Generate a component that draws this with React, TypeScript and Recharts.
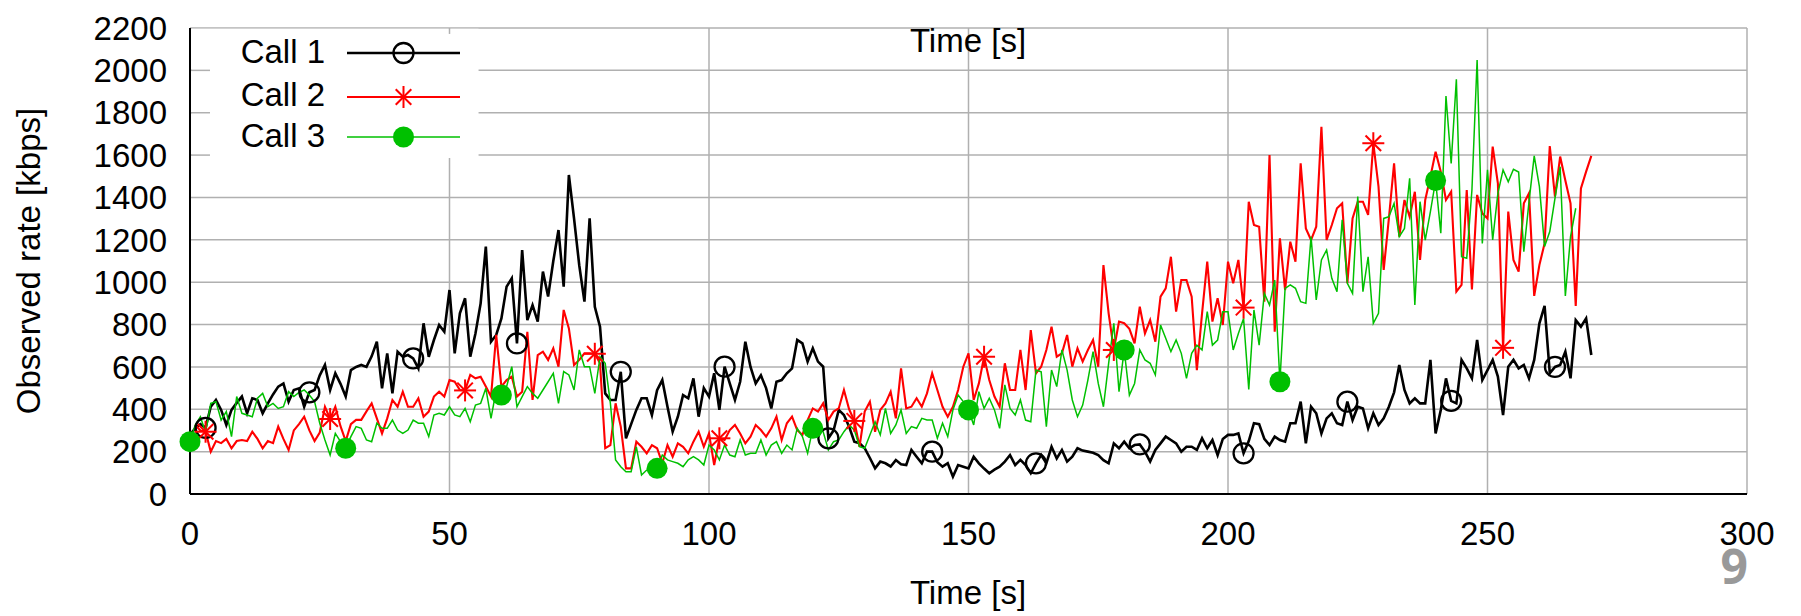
import React from "react";
import {
  LineChart,
  Line,
  XAxis,
  YAxis,
  CartesianGrid,
  ReferenceArea,
  ReferenceLine,
} from "recharts";

const FONT = "'Liberation Sans', Arial, Helvetica, sans-serif";

const timeTicks = [0, 50, 100, 150, 200, 250, 300];
const rateTicks = [0, 200, 400, 600, 800, 1000, 1200, 1400, 1600, 1800, 2000, 2200];

// observed rate [kbps], one sample per second, starting at t = 0
const call1Rate = [
  280, 310, 330, 312, 412, 444, 397, 326, 397, 430,
  460, 381, 452, 444, 381, 428, 470, 507, 522, 436,
  491, 499, 412, 480, 491, 560, 609, 491, 570, 520,
  460, 585, 600, 609, 600, 650, 719, 499, 664, 475,
  672, 648, 656, 640, 593, 806, 648, 727, 798, 766,
  963, 664, 853, 924, 648, 758, 900, 1168, 719, 751,
  829, 979, 1018, 711, 1152, 821, 892, 814, 1050, 932,
  1100, 1246, 979, 1506, 1300, 1080, 908, 1301, 884, 790,
  475, 444, 444, 577, 263, 330, 397, 452, 452, 373,
  490, 538, 412, 294, 365, 467, 452, 546, 365, 500,
  460, 570, 397, 601, 522, 444, 530, 719, 600, 522,
  560, 500, 404, 530, 538, 570, 593, 727, 711, 625,
  688, 625, 601, 263, 300, 397, 373, 318, 247, 240,
  216, 170, 121, 153, 145, 130, 160, 140, 137, 208,
  176, 145, 200, 200, 150, 129, 145, 82, 137, 129,
  121, 176, 145, 120, 98, 115, 129, 153, 184, 137,
  161, 137, 98, 145, 184, 145, 223, 168, 208, 153,
  176, 216, 205, 200, 195, 184, 160, 145, 239, 216,
  247, 216, 231, 234, 200, 153, 208, 239, 271, 255,
  239, 200, 223, 223, 208, 263, 216, 255, 184, 260,
  279, 279, 286, 192, 250, 334, 330, 260, 231, 271,
  255, 247, 334, 334, 436, 239, 412, 381, 286, 357,
  381, 334, 326, 436, 349, 412, 404, 310, 381, 326,
  357, 412, 480, 609, 491, 428, 452, 428, 428, 633,
  286, 397, 546, 440, 428, 633, 593, 546, 727, 538,
  585, 633, 554, 373, 601, 633, 593, 609, 546, 633,
  806, 888, 570, 600, 609, 672, 546, 821, 790, 829,
  656,
];

const call2Rate = [
  null, 326, 300, 294, 200, 250, 240, 260, 216, 250,
  255, 250, 294, 260, 216, 250, 240, 318, 260, 208,
  300, 330, 365, 300, 250, 290, 412, 354, 412, 320,
  250, 330, 350, 350, 390, 428, 357, 286, 357, 444,
  412, 483, 412, 412, 452, 365, 389, 460, 483, 460,
  538, 530, 491, 489, 562, 546, 554, 507, 460, 751,
  507, 538, 554, 460, 483, 766, 444, 656, 672, 633,
  688, 601, 869, 782, 609, 633, 664, 664, 662, 617,
  216, 231, 428, 318, 121, 121, 247, 223, 192, 231,
  216, 145, 231, 176, 239, 223, 192, 247, 294, 223,
  286, 137, 263, 255, 302, 326, 286, 239, 271, 326,
  302, 271, 310, 365, 255, 334, 365, 302, 279, 349,
  404, 389, 428, 349, 389, 404, 491, 400, 345, 223,
  389, 436, 294, 397, 428, 483, 357, 593, 404, 412,
  452, 412, 475, 570, 491, 412, 365, 412, 491, 601,
  664, 444, 522, 648, 538, 460, 412, 617, 491, 491,
  680, 491, 774, 570, 601, 680, 790, 648, 664, 751,
  601, 688, 625, 680, 727, 601, 1081, 853, 680, 814,
  806, 780, 711, 884, 758, 821, 719, 932, 971, 1120,
  861, 1010, 1010, 932, 585, 853, 1097, 814, 924, 798,
  1097, 995, 1105, 880, 1380, 1270, 1262, 908, 1600, 766,
  1207, 963, 1191, 1097, 1561, 1254, 1199, 1262, 1734, 1199,
  1270, 1349, 1372, 995, 1301, 1380, 1380, 1318, 1656, 1451,
  1058, 1301, 1561, 1215, 1388, 1309, 1427, 1105, 1388, 1498,
  1616, 1522, 1388, 1427, 955, 987, 1435, 966, 1412, 1325,
  1301, 1640, 1467, 690, 1333, 1105, 1050, 1372, 1420, 935,
  1081, 1183, 1643, 1404, 1593, 1480, 1372, 888, 1443, 1522,
  1596,
];

const call3Rate = [
  247, 326, 365, 290, 428, 436, 349, 389, 271, 460,
  381, 373, 365, 452, 475, 412, 428, 404, 412, 483,
  460, 480, 491, 467, 436, 334, 255, 184, 286, 247,
  216, 271, 318, 310, 255, 247, 334, 310, 310, 349,
  302, 286, 302, 349, 334, 334, 271, 373, 381, 373,
  412, 373, 365, 404, 341, 420, 428, 499, 357, 491,
  467, 507, 601, 412, 460, 507, 475, 452, 491, 530,
  570, 428, 578, 562, 491, 680, 601, 601, 475, 648,
  617, 428, 161, 129, 105, 105, 223, 90, 113, 105,
  121, 184, 161, 153, 145, 129, 161, 176, 161, 137,
  231, 208, 161, 231, 184, 176, 255, 184, 192, 192,
  255, 184, 231, 247, 192, 231, 208, 310, 271, 192,
  310, 326, 294, 208, 247, 255, 294, 326, 302, 223,
  216, 279, 341, 279, 404, 286, 326, 397, 286, 318,
  310, 357, 349, 349, 263, 334, 271, 397, 467, 436,
  397, 326, 483, 404, 452, 397, 310, 515, 404, 373,
  444, 349, 341, 585, 577, 318, 585, 507, 680, 585,
  444, 365, 420, 538, 672, 522, 412, 617, 806, 483,
  680, 467, 522, 680, 633, 617, 562, 798, 735, 672,
  727, 664, 546, 664, 703, 680, 861, 703, 727, 861,
  861, 680, 758, 829, 494, 869, 703, 947, 892, 1010,
  530, 971, 987, 971, 908, 900, 1215, 916, 1105, 1152,
  1018, 955, 1294, 995, 947, 1404, 955, 1120, 806, 853,
  1301, 1309, 1372, 1215, 1254, 1490, 892, 1380, 1199, 1333,
  1480, 1231, 1879, 1561, 1958, 1120, 1113, 1435, 2049, 1183,
  1530, 1199, 1419, 1530, 1474, 1533, 1520, 1144, 1380, 1596,
  1451, 1168, 1239, 1396, 1545, 935, 1215, 1349,
];

// seconds at which gnuplot put a point symbol on each line
const call1Marks = [3, 23, 43, 63, 83, 103, 123, 143, 163, 183, 203, 223, 243, 263];
const call2Marks = [3, 27, 53, 78, 102, 128, 153, 178, 203, 228, 253];
const call3Marks = [0, 30, 60, 90, 120, 150, 180, 210, 240];

type Shape = "circle" | "star" | "disc";
type SeriesDef = {
  key: string;
  name: string;
  color: string;
  width: number;
  shape: Shape;
  marks: number[];
};

const series: SeriesDef[] = [
  { key: "call1", name: "Call 1", color: "#000000", width: 2.6, shape: "circle", marks: call1Marks },
  { key: "call2", name: "Call 2", color: "#ff0000", width: 2.1, shape: "star", marks: call2Marks },
  { key: "call3", name: "Call 3", color: "#00c000", width: 1.5, shape: "disc", marks: call3Marks },
];

const rows = call1Rate.map((_, i) => ({
  t: i,
  call1: call1Rate[i] ?? null,
  call2: call2Rate[i] ?? null,
  call3: call3Rate[i] ?? null,
}));

function Marker({ shape, cx, cy, color }: { shape: Shape; cx: number; cy: number; color: string }) {
  if (shape === "circle") {
    return <circle cx={cx} cy={cy} r={10} fill="none" stroke={color} strokeWidth={2.3} />;
  }
  if (shape === "star") {
    const r = 11;
    const d = r * 0.7071;
    return (
      <g stroke={color} strokeWidth={2}>
        <line x1={cx - r} y1={cy} x2={cx + r} y2={cy} />
        <line x1={cx} y1={cy - r} x2={cx} y2={cy + r} />
        <line x1={cx - d} y1={cy - d} x2={cx + d} y2={cy + d} />
        <line x1={cx - d} y1={cy + d} x2={cx + d} y2={cy - d} />
      </g>
    );
  }
  return <circle cx={cx} cy={cy} r={10.5} fill={color} />;
}

const makeDot = (s: SeriesDef) => (props: any) => {
  const { cx, cy, payload, index } = props;
  const k = `${s.key}-dot-${index}`;
  if (cx == null || cy == null || !payload || !s.marks.includes(payload.t)) return <g key={k} />;
  return (
    <g key={k}>
      <Marker shape={s.shape} cx={cx} cy={cy} color={s.color} />
    </g>
  );
};

const GRID = "#b0b0b0";

export default function App() {
  const legendRows = [
    { y: 53, base: 63 },
    { y: 97, base: 106 },
    { y: 137, base: 147 },
  ];

  return (
    <div style={{ position: "absolute", left: 0, top: 0, width: 1801, height: 616, background: "#fff" }}>
      <LineChart
        width={1801}
        height={616}
        data={rows}
        margin={{ top: 28, right: 54, bottom: 92, left: 0 }}
      >
        <CartesianGrid stroke={GRID} strokeWidth={1.5} />
        {/* white key box hides the grid behind the legend */}
        <ReferenceArea x1={0.3} x2={55.6} y1={1586} y2={2196} fill="#ffffff" fillOpacity={1} stroke="none" />
        {[1600, 1800, 2000].map((v) => (
          <ReferenceLine
            key={`yt-${v}`}
            segment={[{ x: 0, y: v }, { x: 3.85, y: v }]}
            stroke={GRID}
            strokeWidth={1.5}
          />
        ))}
        <ReferenceLine segment={[{ x: 50, y: 2200 }, { x: 50, y: 2172 }]} stroke={GRID} strokeWidth={1.5} />
        <XAxis
          dataKey="t"
          type="number"
          domain={[0, 300]}
          ticks={timeTicks}
          tickLine={false}
          tickSize={0}
          tickMargin={28}
          height={30}
          axisLine={{ stroke: "#000", strokeWidth: 2 }}
          tick={{ fill: "#000", fontSize: 33, fontFamily: FONT }}
          interval={0}
        />
        <YAxis
          type="number"
          domain={[0, 2200]}
          ticks={rateTicks}
          tickLine={false}
          tickSize={0}
          tickMargin={23}
          width={190}
          axisLine={{ stroke: "#000", strokeWidth: 2 }}
          tick={{ fill: "#000", fontSize: 33, fontFamily: FONT }}
          interval={0}
        />
        {series.map((s) => (
          <Line
            key={s.key}
            dataKey={s.key}
            name={s.name}
            type="linear"
            stroke={s.color}
            strokeWidth={s.width}
            dot={makeDot(s)}
            activeDot={false}
            isAnimationActive={false}
          />
        ))}
      </LineChart>

      <svg
        width={1801}
        height={616}
        style={{ position: "absolute", left: 0, top: 0, pointerEvents: "none" }}
        fontFamily={FONT}
      >
        <text x={40} y={261} transform="rotate(-90 40 261)" textAnchor="middle" fontSize={33} fill="#000">
          Observed rate [kbps]
        </text>
        <text x={968} y={52} textAnchor="middle" fontSize={33} fill="#000">
          Time [s]
        </text>
        <text x={968} y={604} textAnchor="middle" fontSize={33} fill="#000">
          Time [s]
        </text>
        <text
          x={1748}
          y={584}
          textAnchor="end"
          fontSize={48}
          fontWeight="bold"
          fill="#999999"
          fontFamily="'Open Sans', 'DejaVu Sans', sans-serif"
        >
          9
        </text>
        {series.map((s, i) => (
          <g key={`lg-${s.key}`}>
            <text x={325} y={legendRows[i].base} textAnchor="end" fontSize={33} fill="#000">
              {s.name}
            </text>
            <line x1={347} y1={legendRows[i].y} x2={460} y2={legendRows[i].y} stroke={s.color} strokeWidth={s.width} />
            <Marker shape={s.shape} cx={403.5} cy={legendRows[i].y} color={s.color} />
          </g>
        ))}
      </svg>
    </div>
  );
}
